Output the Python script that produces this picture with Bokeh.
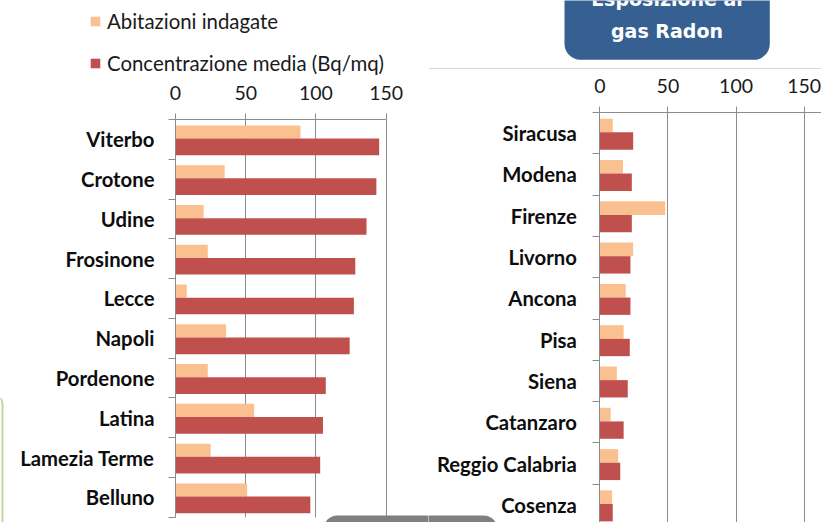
from bokeh.plotting import figure
from bokeh.models import (Range1d, LinearAxis, FixedTicker, BoxAnnotation, Label,
                          Legend, LegendItem)
from bokeh.layouts import row
from bokeh.embed import file_html
from bokeh.resources import INLINE
import numpy as np

# ---- data ----
left_cities = ["Viterbo", "Crotone", "Udine", "Frosinone", "Lecce", "Napoli",
               "Pordenone", "Latina", "Lamezia Terme", "Belluno"]
left_abitazioni = [89, 35, 20, 23, 8, 36, 23, 56, 25, 51]
left_concentrazione = [145, 143, 136, 128, 127, 124, 107, 105, 103, 96]

right_cities = ["Siracusa", "Modena", "Firenze", "Livorno", "Ancona", "Pisa",
                "Siena", "Catanzaro", "Reggio Calabria", "Cosenza"]
right_abitazioni = [9.5, 17, 48, 24.5, 19, 17.5, 12.5, 8, 13.5, 9]
right_concentrazione = [24.5, 23.5, 23.5, 22.5, 22.5, 22, 20.5, 17.5, 15, 9.5]

x_ticks = [0, 50, 100, 150]
legend_labels = ["Abitazioni indagate", "Concentrazione media (Bq/mq)"]
title_lines = ["Esposizione al", "gas Radon"]

PEACH = "#FAC090"
RED = "#C0504D"
GRID = "#8C8C8C"
FONT = "Lato"
H = 522


class Chart:
    """Figure whose frame fills the canvas; pixel geometry -> data ranges."""

    def __init__(self, cities, abit, conc, width, x0_px, x150_px, y0_px, band_px,
                 label_standoff, axis_end):
        self.k = (x150_px - x0_px) / 150.0
        self.x0, self.y0, self.band = x0_px, y0_px, band_px
        n = len(cities)
        p = figure(width=width, height=H, output_backend="svg", toolbar_location=None,
                   x_range=Range1d(self.X(0), self.X(width)),
                   y_range=Range1d(self.Y(H), self.Y(0)),
                   x_axis_location=None, y_axis_location=None,
                   min_border=0)
        p.outline_line_color = None
        p.background_fill_color = "white"
        p.border_fill_color = "white"

        pos = np.arange(n)
        self.r_abit = p.hbar(y=pos + 0.315, left=0, right=abit, height=0.33,
                             fill_color=PEACH, line_color=None)
        self.r_conc = p.hbar(y=pos + 0.69, left=0, right=conc, height=0.42,
                             fill_color=RED, line_color=None)

        xa = LinearAxis(ticker=FixedTicker(ticks=x_ticks), fixed_location=0,
                        bounds=(0, axis_end))
        xa.axis_line_color = GRID
        xa.major_tick_line_color = GRID
        xa.major_tick_out = 6
        xa.major_tick_in = 0
        xa.minor_tick_line_color = None
        xa.major_label_standoff = 14
        xa.major_label_text_font = FONT
        xa.major_label_text_font_size = "19.5px"
        xa.major_label_text_color = "#1a1a1a"
        p.add_layout(xa, "above")

        centers = [i + 0.5 for i in range(n)]
        ya = LinearAxis(ticker=FixedTicker(ticks=centers, minor_ticks=list(range(n + 1))),
                        fixed_location=0, bounds=(0, n))
        ya.major_label_overrides = {c: name for c, name in zip(centers, cities)}
        ya.axis_line_color = GRID
        ya.major_tick_line_color = None
        ya.major_tick_out = 0
        ya.major_tick_in = 0
        ya.minor_tick_line_color = GRID
        ya.minor_tick_out = 7
        ya.minor_tick_in = 0
        ya.major_label_standoff = label_standoff
        ya.major_label_text_font = FONT
        ya.major_label_text_font_style = "bold"
        ya.major_label_text_font_size = "20.3px"
        ya.major_label_text_color = "#0d0d0d"
        p.add_layout(ya, "left")

        p.xgrid.ticker = FixedTicker(ticks=x_ticks)
        p.xgrid.grid_line_color = GRID
        p.xgrid.cross_bounds = (0, n)
        p.ygrid.grid_line_color = None
        self.p = p

    def X(self, px):
        return (px - self.x0) / self.k

    def Y(self, py):
        return (py - self.y0) / self.band


left = Chart(left_cities, left_abitazioni, left_concentrazione,
             428, 175, 385.7, 119, 39.77, 14, 150)
right = Chart(right_cities, right_abitazioni, right_concentrazione,
              393, 171.3, 375.7, 112, 41.3, 16, 170)
p1, p2 = left.p, right.p

# legend (top left of the left chart)
legend = Legend(items=[LegendItem(label=legend_labels[0], renderers=[left.r_abit]),
                       LegendItem(label=legend_labels[1], renderers=[left.r_conc])],
                location=(89, 447.5), orientation="vertical",
                glyph_width=12, glyph_height=12, label_standoff=6,
                label_height=20, spacing=18, padding=0, margin=0,
                label_text_font=FONT, label_text_font_size="20.4px",
                label_text_color="#1a1a1a",
                border_line_color=None, background_fill_alpha=0)
p1.add_layout(legend, "center")

# green-bordered panel edge at the far left
p1.add_layout(BoxAnnotation(left=left.X(-40), right=left.X(2), top=left.Y(394),
                            bottom=left.Y(560), fill_alpha=0, line_color="#c3d69b",
                            line_width=2, line_alpha=1, border_radius=10))

# grey rounded panel at the bottom (split over the two figures)
p1.add_layout(BoxAnnotation(left=left.X(323), right=left.X(440), top=left.Y(515),
                            bottom=left.Y(560), fill_color="#7f7f7f", fill_alpha=1,
                            line_color=None, border_radius=(14, 0, 0, 0)))
p2.add_layout(BoxAnnotation(left=right.X(-12), right=right.X(69), top=right.Y(515),
                            bottom=right.Y(560), fill_color="#7f7f7f", fill_alpha=1,
                            line_color=None, border_radius=(0, 14, 0, 0)))

# faint separator line and title box on the right chart
p2.add_layout(BoxAnnotation(left=right.X(0), right=right.X(393),
                            top=right.Y(67.5), bottom=right.Y(68.5),
                            fill_color="#d9d9d9", fill_alpha=1, line_color=None))
p2.add_layout(BoxAnnotation(left=right.X(136), right=right.X(341.3),
                            top=right.Y(-20), bottom=right.Y(59.3),
                            fill_color="#376092", fill_alpha=1, line_color=None,
                            border_radius=16))
for i, t in enumerate(title_lines):
    p2.add_layout(Label(x=right.X(238.5), y=right.Y(-2 + 32 * i), text=t,
                        text_align="center", text_baseline="alphabetic",
                        text_color="white", text_font="DejaVu Sans",
                        text_font_style="bold", text_font_size="19px"))

layout = row(p1, p2)
open("out.html", "w").write(file_html(layout, INLINE))
